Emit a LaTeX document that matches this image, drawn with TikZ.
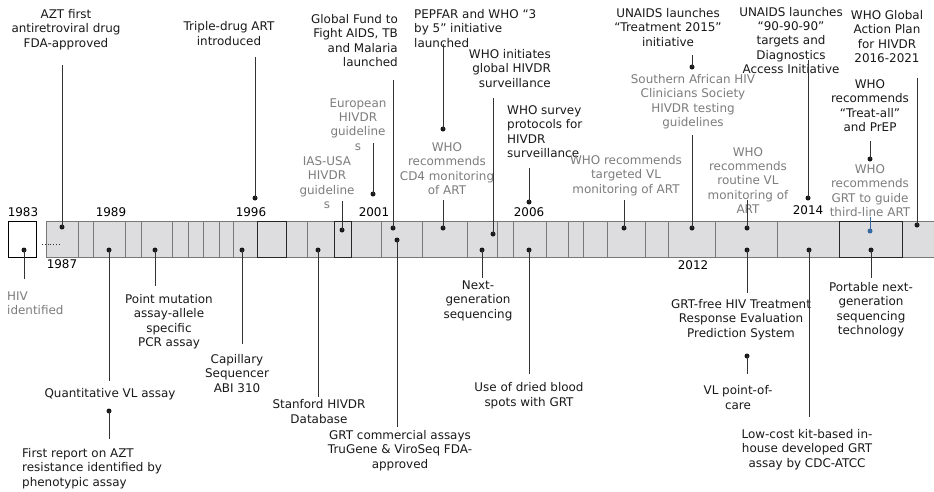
\documentclass[tikz,border=0pt]{standalone}
\usepackage{fontspec}
\setmainfont{DejaVu Sans}
\definecolor{txtgray}{RGB}{125,125,125}
\definecolor{txtblack}{RGB}{25,25,25}
\definecolor{linegray}{RGB}{50,50,50}
\definecolor{barfill}{RGB}{221,221,223}
\definecolor{cellline}{RGB}{120,120,120}
\definecolor{dotblue}{RGB}{55,105,160}
\newcommand\evfont{\fontsize{11.95}{14.4}\selectfont}
\tikzset{
  lbl/.style={font=\evfont, text=txtblack, align=center, inner sep=0pt, yshift=-1.5pt},
  lblg/.style={lbl, text=txtgray},
  yr/.style={font=\evfont, text=black, inner sep=0pt},
  dotn/.style={circle, fill=txtblack, draw=none, minimum size=5pt, inner sep=0pt},
  dotb/.style={dotn, fill=dotblue},
  conn/.style={draw=linegray, line width=0.9pt},
  connb/.style={draw=dotblue, line width=0.9pt},
  cell/.style={draw=cellline, line width=0.6pt},
  darkcell/.style={draw=black!85, line width=0.9pt}
}
\begin{document}
\begin{tikzpicture}[x=1pt,y=-1pt]
\useasboundingbox (0,0) rectangle (934,491);
\fill[white] (0,0) rectangle (934,491);

% bar
\node[draw=cellline, fill=barfill, line width=0.6pt, inner sep=0pt, minimum width=888pt, minimum height=36pt, anchor=north west] (bar) at (46,221) {};
\foreach \x in {78,93,125,141,172,188,203,219,233,257,286,307,334,351,381,422,467,497,513,546,568,583,607,645,668,715,777,839,902}
  \draw[cell] (\x,221) -- (\x,257);
\draw[darkcell] (257,221) rectangle (286,257);
\draw[darkcell] (334,221) rectangle (351,257);
\draw[darkcell] (839,221) rectangle (902,257);
% small box
\node[draw=black, fill=white, line width=1.2pt, inner sep=0pt, minimum width=28pt, minimum height=36pt, anchor=north west] (box) at (8,221) {};
\coordinate (dotA) at (42,244);
\coordinate (dotB) at (61,244);
\draw[linegray, line width=0.8pt, dotted] (dotA) -- (dotB);

% year labels
\node[yr] (y1983) at (23,212) {1983};
\node[yr] (y1989) at (111,212) {1989};
\node[yr] (y1996) at (251,212) {1996};
\node[yr] (y2001) at (374,212) {2001};
\node[yr] (y2006) at (529,212) {2006};
\node[yr] (y2014) at (808,210) {2014};
\node[yr] (y1987) at (62,264) {1987};
\node[yr] (y2012) at (693,265) {2012};

% ===== events above =====
\node[lbl] (e1) at (66,28) {AZT first\\antiretroviral drug\\FDA-approved};
\node[dotn] (d1) at (62,227) {}; \coordinate (c1) at (62,65);
\draw[conn] (c1) -- (d1.center);

\node[lbl] (e2) at (229,32) {Triple-drug ART\\introduced};
\node[dotn] (d2) at (255,198) {}; \coordinate (c2) at (255,57);
\draw[conn] (c2) -- (d2.center);

\node[lblg] (e3) at (327,181) {IAS-USA\\HIVDR\\guideline\\s};
\node[dotn] (d3) at (342,230) {}; \coordinate (c3) at (342,201);
\draw[conn] (c3) -- (d3.center);

\node[lblg] (e4) at (358,123) {European\\HIVDR\\guideline\\s};
\node[dotn] (d4) at (373,194) {}; \coordinate (c4) at (373,143);
\draw[conn] (c4) -- (d4.center);

\node[lbl, align=right, anchor=east] (e5) at (398,39) {Global Fund to\\Fight AIDS, TB\\and Malaria\\launched};
\node[dotn] (d5) at (393,228) {}; \coordinate (c5) at (393,80);
\draw[conn] (c5) -- (d5.center);

\node[lbl, align=left, anchor=west] (e6) at (414,27) {PEPFAR and WHO “3\\by 5" initiative\\launched};
\node[dotn] (d6) at (443,129) {}; \coordinate (c6) at (443,44);
\draw[conn] (c6) -- (d6.center);

\node[lblg] (e7) at (447,167) {WHO\\recommends\\CD4 monitoring\\of ART};
\node[dotn] (d7) at (443,228) {}; \coordinate (c7) at (443,200);
\draw[conn] (c7) -- (d7.center);

\node[lbl, align=right, anchor=east] (e8) at (551,67) {WHO initiates\\global HIVDR\\surveillance};
\node[dotn] (d8) at (493,234) {}; \coordinate (c8) at (493,98);
\draw[conn] (c8) -- (d8.center);

\node[lbl, align=left, anchor=west] (e9) at (507,130) {WHO survey\\protocols for\\HIVDR\\surveillance};
\node[dotn] (d9) at (529,202) {}; \coordinate (c9) at (529,168);
\draw[conn] (c9) -- (d9.center);

\node[lblg] (e10) at (626,174) {WHO recommends\\targeted VL\\monitoring of ART};
\node[dotn] (d10) at (624,228) {}; \coordinate (c10) at (624,200);
\draw[conn] (c10) -- (d10.center);

\node[lbl] (e11) at (668,26) {UNAIDS launches\\“Treatment 2015”\\initiative};
\node[dotn] (d11) at (692,67) {}; \coordinate (c11) at (692,55);
\draw[conn] (c11) -- (d11.center);

\node[lblg] (e12) at (693,100) {Southern African HIV\\Clinicians Society\\HIVDR testing\\guidelines};
\node[dotn] (d12) at (692,228) {}; \coordinate (c12) at (692,135);
\draw[conn] (c12) -- (d12.center);

\node[lblg] (e13) at (748,179) {WHO\\recommends\\routine VL\\monitoring of\\ART};
\node[dotn] (d13) at (747,228) {}; \coordinate (c13) at (747,200);
\draw[conn] (c13) -- (d13.center);

\node[lbl] (e14) at (791,39) {UNAIDS launches\\“90-90-90”\\targets and\\Diagnostics\\Access Initiative};
\node[dotn] (d14) at (808,198) {}; \coordinate (c14) at (808,60);
\draw[conn] (c14) -- (d14.center);

\node[lbl] (e15) at (887,35) {WHO Global\\Action Plan\\for HIVDR\\2016-2021};
\node[dotn] (d15) at (917,225) {}; \coordinate (c15) at (917,78);
\draw[conn] (c15) -- (d15.center);

\node[lbl] (e16) at (870,104) {WHO\\recommends\\“Treat-all”\\and PrEP};
\node[dotn] (d16) at (870,159) {}; \coordinate (c16) at (870,141);
\draw[conn] (c16) -- (d16.center);

\node[lblg] (e17) at (870,189) {WHO\\recommends\\GRT to guide\\third-line ART};
\node[dotb] (d17) at (870,231) {}; \coordinate (c17) at (870,217);
\draw[connb] (c17) -- (d17.center);

% ===== events below =====
\node[lblg, align=left, anchor=west] (b1) at (7,302) {HIV\\identified};
\node[dotn] (f1) at (24,250) {}; \coordinate (g1) at (24,279);
\draw[conn] (f1.center) -- (g1);

\node[lbl, yshift=1.5pt] (b2) at (110,394) {Quantitative VL assay};
\node[dotn] (f2) at (109,250) {}; \coordinate (g2) at (109,381);
\draw[conn] (f2.center) -- (g2);

\node[lbl, align=left, anchor=west] (b3) at (22,467) {First report on AZT\\resistance identified by\\phenotypic assay};
\node[dotn] (f3) at (109,411) {}; \coordinate (g3) at (109,439);
\draw[conn] (f3.center) -- (g3);

\node[lbl] (b4) at (169,320) {Point mutation\\assay-allele\\specific\\PCR assay};
\node[dotn] (f4) at (155,250) {}; \coordinate (g4) at (155,286);
\draw[conn] (f4.center) -- (g4);

\node[lbl] (b5) at (237,372) {Capillary\\Sequencer\\ABI 310};
\node[dotn] (f5) at (242,250) {}; \coordinate (g5) at (242,344);
\draw[conn] (f5.center) -- (g5);

\node[lbl] (b6) at (319,410) {Stanford HIVDR\\Database};
\node[dotn] (f6) at (318,250) {}; \coordinate (g6) at (318,397);
\draw[conn] (f6.center) -- (g6);

\node[lbl] (b7) at (400,449) {GRT commercial assays\\TruGene \& ViroSeq FDA-\\approved};
\node[dotn] (f7) at (397,240) {}; \coordinate (g7) at (397,427);
\draw[conn] (f7.center) -- (g7);

\node[lbl] (b8) at (478,299) {Next-\\generation\\sequencing};
\node[dotn] (f8) at (482,250) {}; \coordinate (g8) at (482,278);
\draw[conn] (f8.center) -- (g8);

\node[lbl] (b9) at (529,394) {Use of dried blood\\spots with GRT};
\node[dotn] (f9) at (529,250) {}; \coordinate (g9) at (529,374);
\draw[conn] (f9.center) -- (g9);

\node[lbl] (b10) at (741,318) {GRT-free HIV Treatment\\Response Evaluation\\Prediction System};
\node[dotn] (f10) at (747,250) {}; \coordinate (g10) at (747,293);
\draw[conn] (f10.center) -- (g10);

\node[lbl] (b11) at (738,396) {VL point-of-\\care};
\node[dotn] (f11) at (747,356) {}; \coordinate (g11) at (747,374);
\draw[conn] (f11.center) -- (g11);

\node[lbl] (b12) at (807,448) {Low-cost kit-based in-\\house developed GRT\\assay by CDC-ATCC};
\node[dotn] (f12) at (809,250) {}; \coordinate (g12) at (809,417);
\draw[conn] (f12.center) -- (g12);

\node[lbl] (b13) at (871,308) {Portable next-\\generation\\sequencing\\technology};
\node[dotn] (f13) at (871,250) {}; \coordinate (g13) at (871,278);
\draw[conn] (f13.center) -- (g13);
\end{tikzpicture}
\end{document}
